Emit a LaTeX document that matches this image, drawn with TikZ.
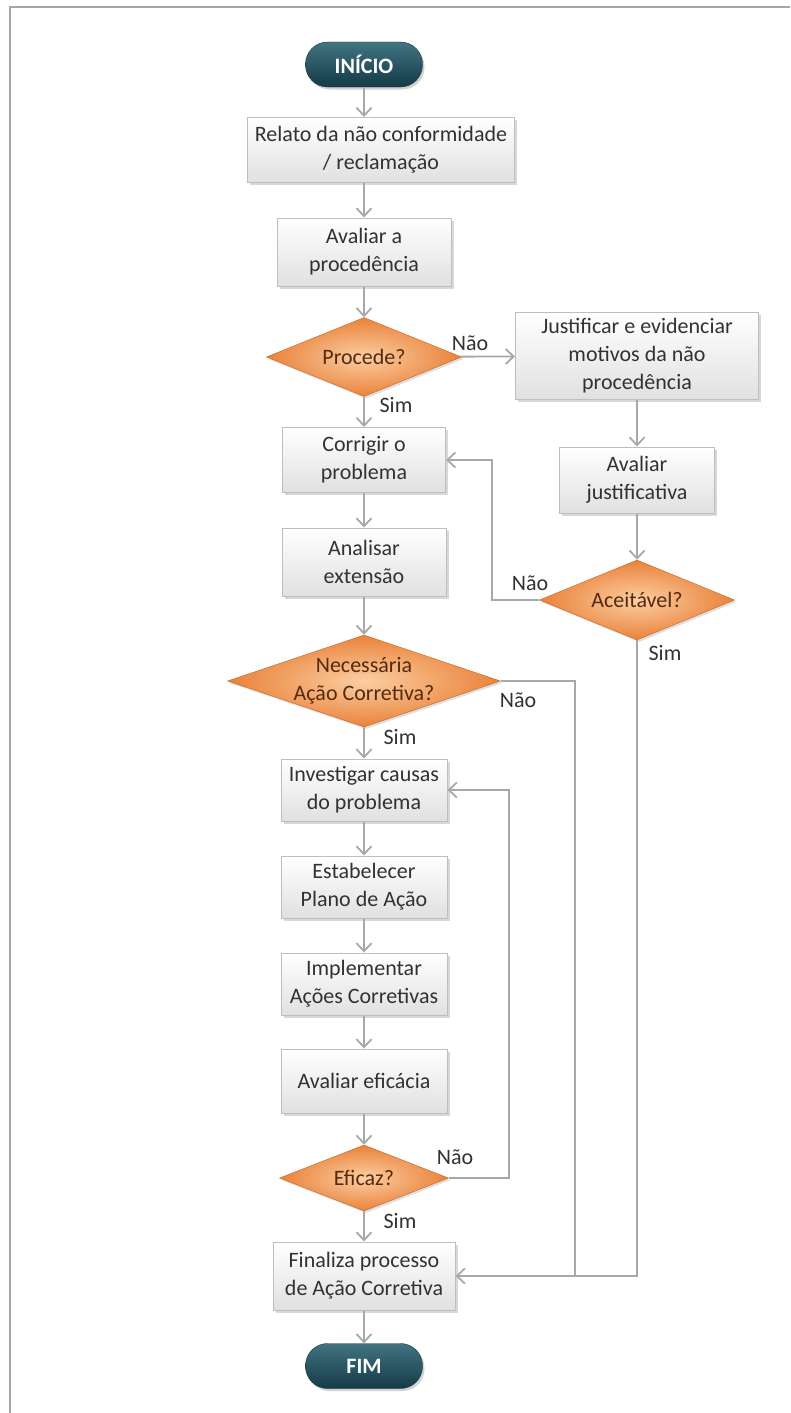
\documentclass[tikz,border=0pt]{standalone}
\usepackage{fontspec}
\setmainfont{Carlito}
\usetikzlibrary{positioning, arrows.meta, shapes.geometric, shadows}

\definecolor{linegray}{RGB}{168,168,168}
\definecolor{boxedge}{RGB}{190,190,190}
\definecolor{boxtext}{RGB}{50,50,50}
\definecolor{decdark}{RGB}{234,130,58}
\definecolor{declight}{RGB}{251,206,162}
\definecolor{dectext}{RGB}{85,42,14}
\definecolor{pilltop}{RGB}{66,116,130}
\definecolor{pillbot}{RGB}{20,58,70}

\begin{document}
\begin{tikzpicture}[x=1pt, y=-1pt, font=\fontsize{22}{28}\selectfont,
    etapa/.style={rectangle, draw=boxedge, line width=1pt, top color=white, bottom color=black!12,
        text=boxtext, align=center, inner sep=0pt,
        drop shadow={shadow xshift=2.5pt, shadow yshift=-2.5pt, opacity=0.3}},
    decisao/.style={diamond, aspect=2.6, draw=decdark!85!black, line width=0.5pt, inner color=declight, outer color=decdark,
        text=dectext, align=center, inner sep=-8pt,
        drop shadow={shadow xshift=2pt, shadow yshift=-2pt, opacity=0.25}},
    terminal/.style={rectangle, rounded corners=22pt, draw=pillbot, top color=pilltop, bottom color=pillbot,
        text=white, font=\fontsize{22}{28}\selectfont\bfseries, minimum width=117pt, minimum height=45pt,
        drop shadow={shadow xshift=2pt, shadow yshift=-2.5pt, opacity=0.35}},
    rotulo/.style={text=boxtext},
    seta/.style={draw=linegray, line width=1.8pt, -{Straight Barb[length=8pt, width=15pt]}},
    linha/.style={draw=linegray, line width=1.8pt}]%[opacity=0.2]
                \path[fill=white, use as bounding box] (0,0) rectangle (790,1413);
                \draw[line width=2pt, black!35] (10,1413) -- (10,7) -- (790,7);

                \node[terminal] (inicio) at (364,64.5) {INÍCIO};
                \node[etapa, minimum width=267pt, minimum height=65pt] (relato) at (381,150) {Relato da não conformidade\\/ reclamação};
                \node[etapa, minimum width=174pt, minimum height=68pt] (avaliar) at (364,252) {Avaliar a\\procedência};
                \node[decisao, minimum width=195pt, minimum height=79pt] (procede) at (364,357) {Procede?};
                \node[etapa, minimum width=243pt, minimum height=87pt] (justificar) at (637,356) {Justificar e evidenciar\\motivos da não\\procedência};
                \node[etapa, minimum width=163pt, minimum height=65pt] (corrigir) at (364,460) {Corrigir o\\problema};
                \node[etapa, minimum width=155pt, minimum height=66pt] (avaljust) at (637,480) {Avaliar\\justificativa};
                \node[etapa, minimum width=164pt, minimum height=68pt] (analisar) at (364,562) {Analisar\\extensão};
                \node[decisao, minimum width=195pt, minimum height=80pt] (aceitavel) at (637,600) {Aceitável?};
                \node[decisao, aspect=2.9, minimum width=273pt, minimum height=92pt] (necessaria) at (364,681) {Necessária\\Ação Corretiva?};
                \node[etapa, minimum width=166pt, minimum height=62pt] (investigar) at (364,790) {Investigar causas\\do problema};
                \node[etapa, minimum width=166pt, minimum height=62pt] (estabelecer) at (364,887) {Estabelecer\\Plano de Ação};
                \node[etapa, minimum width=166pt, minimum height=62pt] (implementar) at (364,984) {Implementar\\Ações Corretivas};
                \node[etapa, minimum width=166pt, minimum height=64pt] (avaleficacia) at (364,1081) {Avaliar eficácia};
                \node[decisao, minimum width=169pt, minimum height=66pt] (eficaz) at (364,1178) {Eficaz?};
                \node[etapa, minimum width=182pt, minimum height=68pt] (finaliza) at (364,1276) {Finaliza processo\\de Ação Corretiva};
                \node[terminal] (fim) at (364,1366) {FIM};
                \coordinate (juncao) at (575,1276);

                \draw [seta] (inicio) -- (inicio |- relato.north);
                \draw [seta] (inicio |- relato.south) -- (avaliar);
                \draw [seta]
                    (avaliar) edge (procede)
                    (procede) edge (corrigir)
                    (corrigir) edge (analisar)
                    (analisar) edge (necessaria)
                    (necessaria) edge (investigar)
                    (investigar) edge (estabelecer)
                    (estabelecer) edge (implementar)
                    (implementar) edge (avaleficacia)
                    (avaleficacia) edge (eficaz)
                    (eficaz) edge (finaliza)
                    (finaliza) edge (fim)
                    (procede) edge (justificar)
                    (justificar) edge (avaljust)
                    (avaljust) edge (aceitavel);
                \draw [seta] (aceitavel.west) -- ++(-47,0) |- (corrigir.east);
                \draw [seta] (eficaz.east) -- ++(60,0) |- (investigar.east);
                \draw [seta] (aceitavel.south) |- (finaliza.east);
                \draw [linha] (necessaria.east) -| (juncao);

                \node[rotulo] (naoprocede) at (470,343) {Não};
                \node[rotulo] (simprocede) at (396,405) {Sim};
                \node[rotulo] (naoaceitavel) at (530,583) {Não};
                \node[rotulo] (simaceitavel) at (665,653) {Sim};
                \node[rotulo] (naonecessaria) at (518,700) {Não};
                \node[rotulo] (simnecessaria) at (400,737) {Sim};
                \node[rotulo] (naoeficaz) at (455,1157) {Não};
                \node[rotulo] (simeficaz) at (400,1221) {Sim};
            \end{tikzpicture}
\end{document}
